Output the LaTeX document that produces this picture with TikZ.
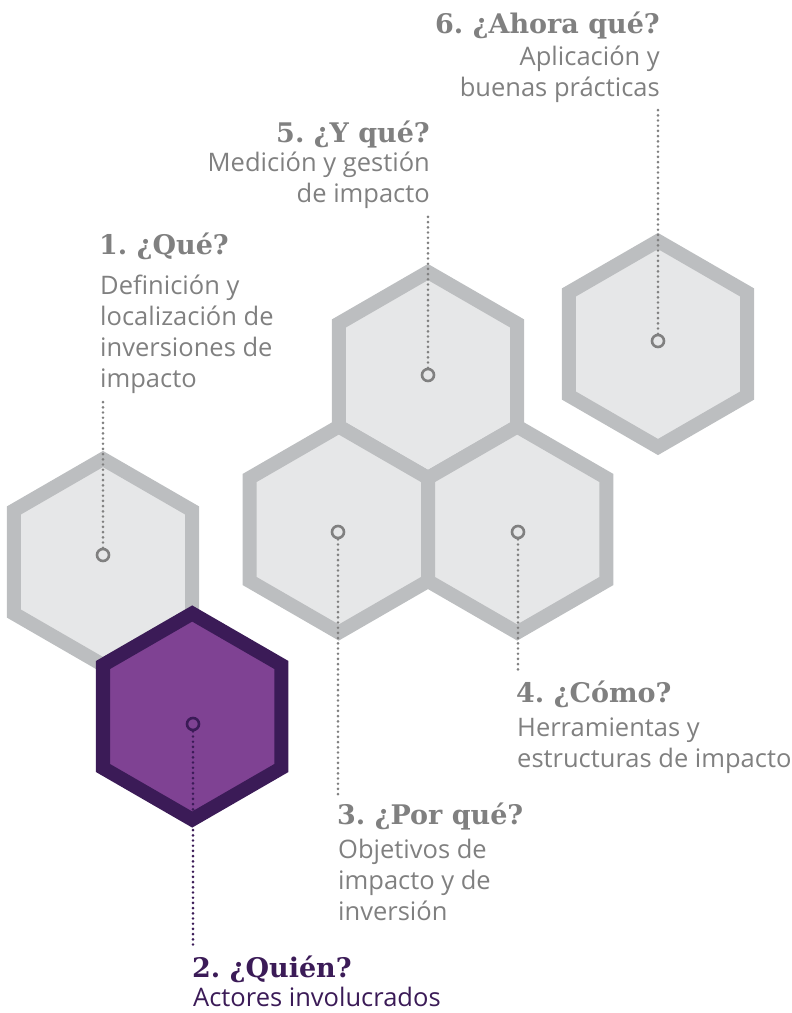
\documentclass[tikz,border=0pt]{standalone}
\usepackage{fontspec}
\newfontfamily\bodyfont{Open Sans}
\newfontfamily\titlefont{DejaVu Serif}
\definecolor{hexline}{HTML}{BCBEC0}
\definecolor{hexfill}{HTML}{E6E7E8}
\definecolor{purfill}{HTML}{7F4293}
\definecolor{purline}{HTML}{3B1B57}
\definecolor{txtgray}{HTML}{808080}
\newcommand\hexat[3]{\draw[#3] (#1,#2) +(90:103) -- +(150:103) -- +(210:103) -- +(270:103) -- +(330:103) -- +(30:103) -- cycle;}
\tikzset{
  grayhex/.style={draw=hexline, fill=hexfill, line width=14pt, line join=miter},
  purhex/.style={draw=purline, fill=purfill, line width=14pt, line join=miter},
  dotc/.style={circle, draw=txtgray, line width=2.6pt, minimum size=12pt, inner sep=0pt},
  dotline/.style={draw=txtgray, line width=2.9pt, line cap=round, dash pattern=on 0pt off 5.2pt},
  ttl/.style={inner sep=0pt, text=txtgray, font=\fontsize{27}{31}\selectfont\titlefont\bfseries\frenchspacing},
  body/.style={inner sep=0pt, text=txtgray, font=\fontsize{25.5}{31}\selectfont\bodyfont},
}
\begin{document}
\begin{tikzpicture}[x=1pt,y=-1pt]
\useasboundingbox (0,0) rectangle (792,1013);
% hexagons
\hexat{103}{562}{grayhex}
\hexat{192.2}{716.5}{purhex}
\hexat{428}{375}{grayhex}
\hexat{338.8}{529.5}{grayhex}
\hexat{517.2}{529.5}{grayhex}
\hexat{658}{344}{grayhex}
% dots
\node[dotc] (d1) at (103,555) {};
\node[dotc, draw=purline] (d2) at (193,724) {};
\node[dotc] (d3) at (338,532) {};
\node[dotc] (d4) at (518,532) {};
\node[dotc] (d5) at (428,375) {};
\node[dotc] (d6) at (658,341) {};
% connector ends
\coordinate (c1) at (103,402);
\coordinate (c2) at (193,946);
\coordinate (c3) at (338,795);
\coordinate (c4) at (518,672);
\coordinate (c5) at (428,212);
\coordinate (c6) at (658,108);
\draw[dotline] (d1.north) -- (c1);
\draw[dotline, draw=purline] (d2.south) -- (c2);
\draw[dotline] (d3.south) -- (c3);
\draw[dotline] (d4.south) -- (c4);
\draw[dotline] (d5.north) -- (c5);
\draw[dotline] (d6.north) -- (c6);
% texts 6
\node[ttl, anchor=base east] (h6) at (660,33) {6. ¿Ahora qué?};
\node[body, anchor=base east] (b6a) at (660,65) {Aplicación y};
\node[body, anchor=base east] (b6b) at (660,96) {buenas prácticas};
% texts 5
\node[ttl, anchor=base east] (h5) at (430,142) {5. ¿Y qué?};
\node[body, anchor=base east] (b5a) at (430,171) {Medición y gestión};
\node[body, anchor=base east] (b5b) at (430,202) {de impacto};
% texts 1
\node[ttl, anchor=base west] (h1) at (99,254) {1. ¿Qué?};
\node[body, anchor=base west] (b1a) at (100,294) {Definición y};
\node[body, anchor=base west] (b1b) at (100,325) {localización de};
\node[body, anchor=base west] (b1c) at (100,356) {inversiones de};
\node[body, anchor=base west] (b1d) at (100,387) {impacto};
% texts 4
\node[ttl, anchor=base west] (h4) at (516,702) {4. ¿Cómo?};
\node[body, anchor=base west] (b4a) at (517,736) {Herramientas y};
\node[body, anchor=base west] (b4b) at (517,767) {estructuras de impacto};
% texts 3
\node[ttl, anchor=base west] (h3) at (337,824) {3. ¿Por qué?};
\node[body, anchor=base west] (b3a) at (338,858) {Objetivos de};
\node[body, anchor=base west] (b3b) at (338,889) {impacto y de};
\node[body, anchor=base west] (b3c) at (338,920) {inversión};
% texts 2
\node[ttl, anchor=base west, text=purline] (h2) at (192,977) {2. ¿Quién?};
\node[body, anchor=base west, text=purline] (b2a) at (193,1006) {Actores involucrados};
\end{tikzpicture}
\end{document}
